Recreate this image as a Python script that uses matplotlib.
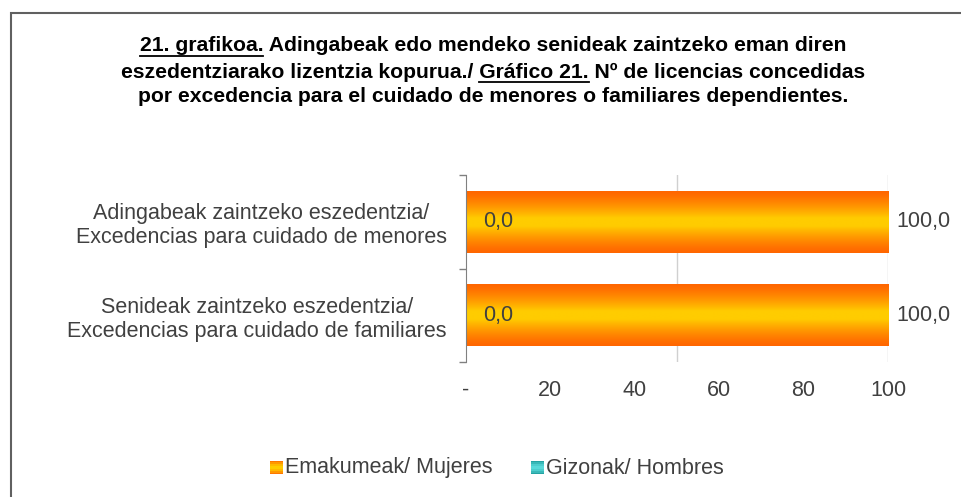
import numpy as np
import matplotlib
matplotlib.use('Agg')
import matplotlib.pyplot as plt
import matplotlib.patches as patches
from matplotlib.legend_handler import HandlerBase

plt.rcParams['font.family'] = ['Liberation Sans', 'DejaVu Sans']

# Data
categories = ['Adingabeak zaintzeko eszedentzia/\nExcedencias para cuidado de menores',
              'Senideak zaintzeko eszedentzia/\nExcedencias para cuidado de familiares']
emakumeak = [100.0, 100.0]
gizonak = [0.0, 0.0]
series_names = ['Emakumeak/ Mujeres', 'Gizonak/ Hombres']
xticks = [0, 20, 40, 60, 80, 100]
xticklabels = ['-', '20', '40', '60', '80', '100']

title_lines = ['21. grafikoa. Adingabeak edo mendeko senideak zaintzeko eman diren',
               'eszedentziarako lizentzia kopurua./ Gráfico 21. Nº de licencias concedidas',
               'por excedencia para el cuidado de menores o familiares dependientes.']

orange = np.array([1.0, 0.40, 0.0])
yellow = np.array([1.0, 0.80, 0.0])
teal_dark = np.array([0.10, 0.60, 0.60])
teal_light = np.array([0.35, 0.85, 0.85])
txt = '#404040'
fs = 15.5
tfs = 15.2

W, H = 962, 497
fig = plt.figure(figsize=(W / 100, H / 100), dpi=100)
ax = fig.add_axes([466 / W, 1 - 362 / H, (888 - 466) / W, (362 - 175) / H])

# gradient profile
t = np.linspace(0, 1, 64)
f = np.clip((1 - np.abs(2 * t - 1)) * 1.15, 0, 1) ** 1.3
grad = orange[None, :] + (yellow - orange)[None, :] * f[:, None]
grad = grad[:, None, :]

ypos = [0, 1]
bh = 0.66
for y, v in zip(ypos, emakumeak):
    ax.imshow(grad, extent=[0, v, y + bh / 2, y - bh / 2], aspect='auto',
              interpolation='bilinear', zorder=2)
ax.barh(ypos, gizonak, height=bh, color='#33AAAA', zorder=3)

for y, v, g in zip(ypos, emakumeak, gizonak):
    ax.text(v + 2, y, f'{v:.1f}'.replace('.', ','), ha='left', va='center',
            fontsize=fs, color=txt)
    ax.text(g + 4, y, f'{g:.1f}'.replace('.', ','), ha='left', va='center',
            fontsize=fs, color=txt, zorder=4)

ax.set_xlim(0, 100)
ax.set_ylim(1.5, -0.5)
ax.set_xticks(xticks)
ax.set_xticklabels(xticklabels, fontsize=fs, color=txt)
ax.tick_params(axis='x', length=0, pad=13)
ax.set_yticks(ypos)
ax.set_yticklabels(categories, fontsize=fs, color=txt, multialignment='center',
                   linespacing=1.2)
ax.tick_params(axis='y', which='major', length=0, pad=14)
ax.set_yticks([-0.5, 0.5, 1.5], minor=True)
ax.tick_params(axis='y', which='minor', length=5, color='#808080', width=1)
for gx in [50, 100]:
    ax.axvline(gx, color='#D0D0D0', linewidth=1, zorder=1)
for s in ['top', 'right', 'bottom']:
    ax.spines[s].set_visible(False)
ax.spines['left'].set_color('#808080')
ax.spines['left'].set_zorder(5)

# Title with underlined parts
renderer = fig.canvas.get_renderer()
cx = 493 / W
ys = [46, 72, 97]
def width_px(s):
    tt = fig.text(0, 0, s, fontsize=tfs, fontweight='bold')
    w = tt.get_window_extent(renderer).width
    tt.remove()
    return w

for line, yp in zip(title_lines, ys):
    fig.text(cx, 1 - yp / H, line, ha='center', va='center', fontsize=tfs,
             fontweight='bold', color='black')

def underline(line, yp, prefix, word):
    total = width_px(line)
    left = cx * W - total / 2
    end = left + width_px(prefix)
    start = end - width_px(word)
    yl = (H - yp - 10) / H
    fig.add_artist(plt.Line2D([start / W, end / W], [yl, yl], color='black', linewidth=1.3))

underline(title_lines[0], ys[0], '21. grafikoa.', '21. grafikoa.')
underline(title_lines[1], ys[1], 'eszedentziarako lizentzia kopurua./ Gráfico 21.', 'Gráfico 21.')

# Legend with gradient squares
class GradHandler(HandlerBase):
    def __init__(self, c_edge, c_mid):
        super().__init__()
        self.c_edge, self.c_mid = c_edge, c_mid
    def create_artists(self, legend, orig_handle, xdescent, ydescent, width, height, fontsize, trans):
        arts = []
        n = 8
        for i in range(n):
            tt = (i + 0.5) / n
            ff = min(1, (1 - abs(2 * tt - 1)) * 1.3)
            c = self.c_edge + (self.c_mid - self.c_edge) * ff
            r = patches.Rectangle((xdescent, ydescent + height * (1 - (i + 1) / n)), width, height / n,
                                  facecolor=c, edgecolor='none', transform=trans)
            arts.append(r)
        return arts

h1 = patches.Patch(color=orange)
h2 = patches.Patch(color=teal_dark)
fig.legend([h1, h2], series_names, loc='center', bbox_to_anchor=(497 / W, 1 - 468 / H),
           ncol=2, frameon=False, fontsize=fs, labelcolor=txt,
           handlelength=0.6, handleheight=0.6, handletextpad=0.1, columnspacing=1.8,
           handler_map={h1: GradHandler(orange, yellow), h2: GradHandler(teal_dark, teal_light)})

# Outer border
fig.add_artist(patches.Rectangle((11 / W, -0.1), 1.2, 1 - 13 / H + 0.1, fill=False,
                                 edgecolor='#606060', linewidth=1.5, transform=fig.transFigure))

fig.savefig('out.png', dpi=100)
